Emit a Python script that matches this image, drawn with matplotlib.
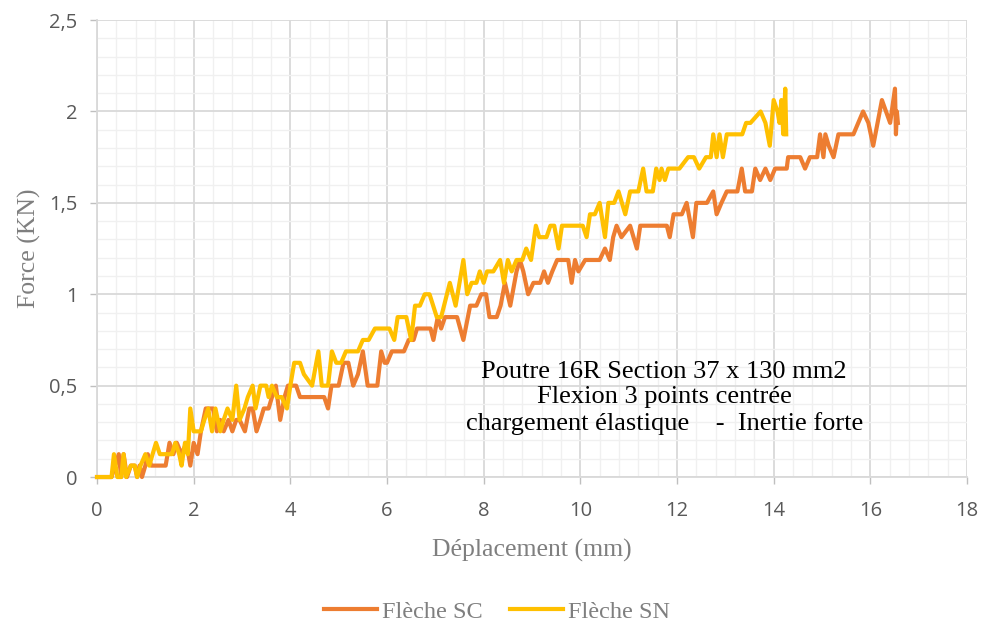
import numpy as np
import matplotlib.pyplot as plt
from matplotlib.ticker import MultipleLocator, FuncFormatter

# Flèche SC (orange): déplacement (mm) / force (KN)
sc_x = [0.00, 0.30, 0.45, 0.50, 0.55, 0.62, 0.70, 0.78, 0.83, 0.88, 0.93, 1.00, 1.05, 1.12,
        1.35, 1.42, 1.50, 1.58, 1.65, 1.75, 1.85, 1.93, 2.00, 2.08, 2.15, 2.25, 2.40, 2.48,
        2.55, 2.62, 2.72, 2.80, 2.88, 2.95, 3.06, 3.15, 3.22, 3.30, 3.38, 3.45, 3.55, 3.62,
        3.70, 3.79, 3.88, 3.95, 4.12, 4.20, 4.40, 4.52, 4.62, 4.70, 4.78, 4.85, 5.00, 5.10,
        5.20, 5.30, 5.40, 5.50, 5.60, 5.80, 5.88, 5.95, 6.00, 6.10, 6.35, 6.45, 6.55, 6.62,
        6.90, 6.96, 7.05, 7.12, 7.20, 7.45, 7.58, 7.72, 7.85, 7.95, 8.05, 8.12, 8.27, 8.35,
        8.44, 8.55, 8.68, 8.75, 8.82, 8.92, 9.03, 9.17, 9.25, 9.33, 9.42, 9.52, 9.75, 9.82,
        9.89, 9.96, 10.10, 10.40, 10.51, 10.61, 10.68, 10.75, 10.85, 11.03, 11.17, 11.24,
        11.79, 11.85, 11.93, 12.10, 12.20, 12.33, 12.40, 12.62, 12.75, 12.82, 12.92, 13.03,
        13.25, 13.34, 13.41, 13.55, 13.62, 13.72, 13.83, 13.93, 14.03, 14.27, 14.30, 14.55,
        14.65, 14.75, 14.90, 14.96, 15.03, 15.07, 15.14, 15.24, 15.34, 15.65, 15.75, 15.85,
        15.96, 16.06, 16.24, 16.41, 16.51, 16.53, 16.55, 16.57]
sc_f = [0, 0, 0.125, 0, 0.125, 0, 0.0625, 0.0625, 0, 0.0625, 0, 0.0625, 0.125, 0.0625,
        0.0625, 0.0625, 0.1875, 0.125, 0.1875, 0.125, 0.1875, 0.0625, 0.1875, 0.125, 0.25,
        0.375, 0.375, 0.25, 0.3125, 0.25, 0.3125, 0.25, 0.3125, 0.3125, 0.25, 0.375, 0.375,
        0.25, 0.3125, 0.375, 0.375, 0.4375, 0.5, 0.3125, 0.4375, 0.5, 0.5, 0.4375, 0.4375,
        0.4375, 0.4375, 0.4375, 0.375, 0.5, 0.5, 0.625, 0.625, 0.5, 0.5625, 0.6875, 0.5,
        0.5, 0.6875, 0.625, 0.625, 0.6875, 0.6875, 0.75, 0.75, 0.8125, 0.8125, 0.75, 0.875,
        0.8125, 0.875, 0.875, 0.75, 0.9375, 0.9375, 1.0, 1.0, 0.875, 0.875, 0.9375, 1.0625,
        0.9375, 1.125, 1.1875, 1.125, 1.0, 1.0625, 1.0625, 1.125, 1.0625, 1.125, 1.1875,
        1.1875, 1.0625, 1.1875, 1.125, 1.1875, 1.1875, 1.25, 1.1875, 1.3125, 1.375, 1.3125,
        1.375, 1.25, 1.375, 1.375, 1.3125, 1.4375, 1.4375, 1.5, 1.3125, 1.5, 1.5, 1.5625,
        1.4375, 1.5, 1.5625, 1.5625, 1.6875, 1.5625, 1.5625, 1.6875, 1.625, 1.6875, 1.625,
        1.6875, 1.6875, 1.75, 1.75, 1.6875, 1.75, 1.75, 1.875, 1.75, 1.875, 1.8125, 1.75,
        1.875, 1.875, 1.9375, 2.0, 1.9375, 1.8125, 2.0625, 1.9375, 2.125, 1.875, 2.0, 1.9375]

# Flèche SN (jaune)
sn_x = [0.00, 0.30, 0.35, 0.42, 0.50, 0.55, 0.60, 0.70, 0.78, 0.83, 0.90, 1.00, 1.08, 1.15,
        1.22, 1.30, 1.45, 1.55, 1.62, 1.70, 1.75, 1.82, 1.88, 1.93, 2.00, 2.15, 2.22, 2.30,
        2.38, 2.45, 2.55, 2.62, 2.70, 2.80, 2.88, 2.95, 3.05, 3.12, 3.22, 3.28, 3.38, 3.50,
        3.55, 3.62, 3.72, 3.82, 3.93, 4.00, 4.08, 4.20, 4.28, 4.45, 4.58, 4.65, 4.78, 4.86,
        4.95, 5.05, 5.15, 5.40, 5.50, 5.62, 5.75, 5.95, 6.05, 6.15, 6.22, 6.40, 6.50, 6.58,
        6.68, 6.78, 6.88, 7.03, 7.12, 7.30, 7.42, 7.58, 7.66, 7.75, 7.85, 7.92, 8.00, 8.07,
        8.20, 8.34, 8.42, 8.50, 8.58, 8.68, 8.80, 8.88, 8.98, 9.08, 9.15, 9.30, 9.38, 9.46,
        9.55, 9.62, 10.05, 10.13, 10.20, 10.30, 10.40, 10.51, 10.58, 10.70, 10.79, 10.93,
        11.03, 11.20, 11.30, 11.37, 11.50, 11.57, 11.64, 11.68, 11.75, 11.82, 12.05, 12.23,
        12.35, 12.46, 12.60, 12.70, 12.75, 12.82, 12.88, 12.95, 13.03, 13.35, 13.43, 13.52,
        13.73, 13.83, 13.92, 14.00, 14.08, 14.12, 14.16, 14.20, 14.24, 14.26]
sn_f = [0, 0, 0.125, 0, 0, 0.125, 0, 0.0625, 0.0625, 0, 0.0625, 0.125, 0.0625, 0.125,
        0.1875, 0.125, 0.125, 0.125, 0.1875, 0.125, 0.0625, 0.1875, 0.125, 0.375, 0.25,
        0.25, 0.3125, 0.375, 0.25, 0.375, 0.25, 0.3125, 0.375, 0.3125, 0.5, 0.3125, 0.375,
        0.4375, 0.5, 0.375, 0.5, 0.5, 0.4375, 0.5, 0.4375, 0.4375, 0.375, 0.5, 0.625, 0.625,
        0.5625, 0.5, 0.6875, 0.5, 0.5, 0.6875, 0.625, 0.625, 0.6875, 0.6875, 0.75, 0.75,
        0.8125, 0.8125, 0.8125, 0.75, 0.875, 0.875, 0.75, 0.9375, 0.9375, 1.0, 1.0, 0.875,
        0.875, 1.0625, 0.9375, 1.1875, 1.0, 1.0625, 1.0625, 1.125, 1.0625, 1.125, 1.125,
        1.1875, 1.0625, 1.1875, 1.125, 1.1875, 1.1875, 1.25, 1.1875, 1.375, 1.3125, 1.3125,
        1.375, 1.375, 1.25, 1.375, 1.375, 1.3125, 1.4375, 1.4375, 1.5, 1.3125, 1.5, 1.5,
        1.5625, 1.4375, 1.5625, 1.5625, 1.6875, 1.5625, 1.5625, 1.6875, 1.625, 1.6875, 1.625,
        1.6875, 1.6875, 1.75, 1.75, 1.6875, 1.75, 1.75, 1.875, 1.75, 1.875, 1.75, 1.875,
        1.875, 1.9375, 1.9375, 2.0, 1.9375, 1.8125, 2.0625, 2.0, 1.9375, 2.0625, 1.875,
        2.125, 1.875]

x_ticks = [0, 2, 4, 6, 8, 10, 12, 14, 16, 18]
y_ticks = [0, 0.5, 1, 1.5, 2, 2.5]
note = "Poutre 16R Section 37 x 130 mm2\nFlexion 3 points centrée\nchargement élastique    -  Inertie forte"

serif = ['Liberation Serif', 'DejaVu Serif']
tick_font = ['Open Sans', 'DejaVu Sans']

fig = plt.figure(figsize=(9.84, 6.28), dpi=100)
ax = fig.add_axes([0.0986, 0.2404, 0.8841, 0.7276])

ax.plot(sc_x, sc_f, color='#ED7D31', linewidth=3.0, label='Flèche SC',
        solid_joinstyle='round', clip_on=False, zorder=3)
ax.plot(sn_x, sn_f, color='#FFC000', linewidth=3.0, label='Flèche SN',
        solid_joinstyle='round', clip_on=False, zorder=4)

ax.set_xlim(0, 18)
ax.set_ylim(0, 2.5)
ax.set_xticks(x_ticks)
ax.set_yticks(y_ticks)
ax.xaxis.set_minor_locator(MultipleLocator(0.4))
ax.yaxis.set_minor_locator(MultipleLocator(0.1))
ax.yaxis.set_major_formatter(FuncFormatter(lambda v, p: f"{v:g}".replace('.', ',')))
ax.grid(which='major', color='#d9d9d9', linewidth=1.3)
ax.grid(which='minor', color='#f0f0f0', linewidth=1.0)
ax.set_axisbelow(True)
ax.tick_params(which='minor', length=0)
ax.tick_params(which='major', length=5, color='#bfbfbf', width=1, labelcolor='#595959',
               labelsize=14.5)
ax.tick_params(axis='x', pad=12)
ax.tick_params(axis='y', pad=9)
for lab in ax.get_xticklabels() + ax.get_yticklabels():
    lab.set_family(tick_font)
for s in ['top', 'right']:
    ax.spines[s].set_visible(False)
for s in ['left', 'bottom']:
    ax.spines[s].set_color('#d9d9d9')
    ax.spines[s].set_linewidth(1.3)

ax.set_xlabel("Déplacement (mm)", family=serif, fontsize=18.5, color='#7f7f7f', labelpad=13)
ax.set_ylabel("Force (KN)", family=serif, fontsize=18.5, color='#7f7f7f', labelpad=6)

ax.text(0.652, 0.173, note, transform=ax.transAxes, ha='center', va='center',
        family=serif, fontsize=19, color='black', linespacing=1.22)

fig.legend(loc='center', bbox_to_anchor=(0.505, 0.026), ncol=2, frameon=False,
           prop={'family': serif, 'size': 17.5}, labelcolor='#7f7f7f', handlelength=2.2,
           columnspacing=1.1, handletextpad=0.2)

fig.savefig('out.png', dpi=100)
